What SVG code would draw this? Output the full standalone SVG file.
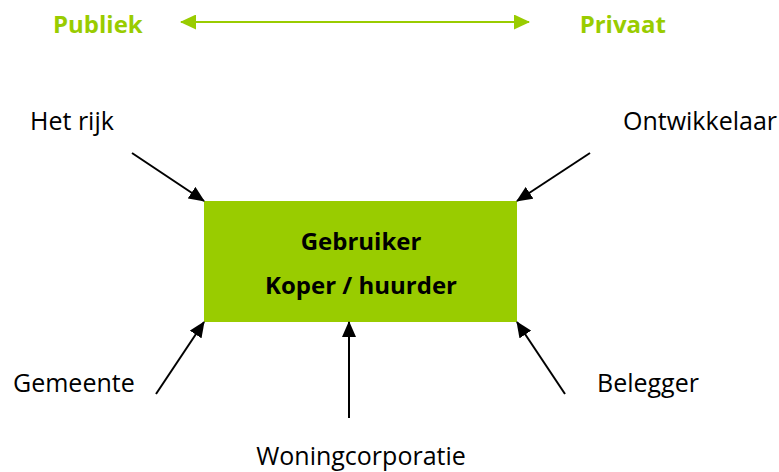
<svg xmlns="http://www.w3.org/2000/svg" width="779" height="472" viewBox="0 0 779 472">
<style>
.lbl{font-family:"Open Sans","Liberation Sans",sans-serif;font-size:25px;fill:#000}
.hd{font-family:"Open Sans","Liberation Sans",sans-serif;font-size:24px;font-weight:bold;fill:#99cc00}
.bx{font-family:"Open Sans","Liberation Sans",sans-serif;font-size:24px;font-weight:bold;fill:#000;text-anchor:middle}
.c{stroke:#000;stroke-width:2;fill:none;marker-end:url(#ah)}
</style>
<defs>
<marker id="ah" markerWidth="16" markerHeight="14" refX="15" refY="7" orient="auto" markerUnits="userSpaceOnUse" viewBox="0 0 16 14">
<path d="M0,0 L16,7 L0,14 z" fill="#000"/>
</marker>
<marker id="ahs" markerWidth="16" markerHeight="15" refX="15" refY="7.5" orient="auto-start-reverse" markerUnits="userSpaceOnUse" viewBox="0 0 16 15">
<path d="M0,0 L16,7.5 L0,15 z" fill="#99cc00"/>
</marker>
</defs>
<g id="header">
<text class="hd" x="53" y="33">Publiek</text>
<text class="hd" x="666" y="33" text-anchor="end">Privaat</text>
<line x1="181" y1="22" x2="529" y2="22" stroke="#99cc00" stroke-width="2" marker-start="url(#ahs)" marker-end="url(#ahs)"/>
</g>
<g id="gebruiker">
<rect x="204" y="201" width="313" height="121" fill="#99cc00"/>
<text class="bx" x="361" y="250">Gebruiker</text>
<text class="bx" x="361" y="294">Koper / huurder</text>
</g>
<g id="het-rijk"><text class="lbl" x="30" y="130">Het rijk</text></g>
<g id="ontwikkelaar"><text class="lbl" x="777" y="130" text-anchor="end">Ontwikkelaar</text></g>
<g id="gemeente"><text class="lbl" x="13" y="392">Gemeente</text></g>
<g id="belegger"><text class="lbl" x="597" y="392">Belegger</text></g>
<g id="woningcorporatie"><text class="lbl" x="361" y="465" text-anchor="middle">Woningcorporatie</text></g>
<g id="connectors">
<line class="c" x1="132" y1="153" x2="204" y2="201"/>
<line class="c" x1="590" y1="153" x2="517" y2="201"/>
<line class="c" x1="156" y1="394" x2="204" y2="322"/>
<line class="c" x1="349" y1="418" x2="349" y2="322"/>
<line class="c" x1="565" y1="394" x2="517" y2="322"/>
</g>
</svg>
